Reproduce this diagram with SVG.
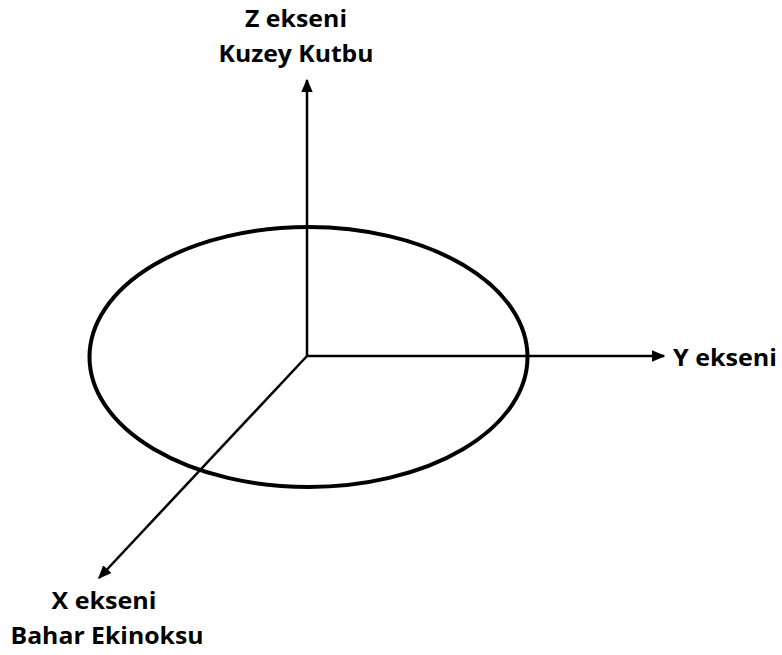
<svg xmlns="http://www.w3.org/2000/svg" width="782" height="655" viewBox="0 0 782 655">
<style>
.lbl{font-family:"Open Sans","Liberation Sans",sans-serif;font-weight:bold;font-size:23px;fill:#000}
.ax{stroke:#000;stroke-width:2.5;fill:none}
</style>
<defs>
<marker id="arr" viewBox="0 0 10 10" refX="9" refY="5" markerWidth="5.4" markerHeight="4.6" markerUnits="strokeWidth" orient="auto" preserveAspectRatio="none">
<path d="M0,0 L10,5 L0,10 Z" fill="#000"/>
</marker>
</defs>
<rect width="782" height="655" fill="#fff"/>
<g id="orbit">
<ellipse cx="308.5" cy="357" rx="219" ry="130" fill="none" stroke="#000" stroke-width="4"/>
</g>
<g id="connectors">
<line class="ax" x1="307" y1="356" x2="307" y2="80" marker-end="url(#arr)"/>
<line class="ax" x1="307" y1="356" x2="664" y2="356" marker-end="url(#arr)"/>
<line class="ax" x1="307" y1="356" x2="99" y2="578" marker-end="url(#arr)"/>
</g>
<g id="z-axis-label">
<text class="lbl" x="296" y="27" text-anchor="middle" textLength="102" lengthAdjust="spacingAndGlyphs">Z ekseni</text>
<text class="lbl" x="296" y="62" text-anchor="middle" textLength="155" lengthAdjust="spacingAndGlyphs">Kuzey Kutbu</text>
</g>
<g id="y-axis-label">
<text class="lbl" x="673" y="366" textLength="104" lengthAdjust="spacingAndGlyphs">Y ekseni</text>
</g>
<g id="x-axis-label">
<text class="lbl" x="104" y="609" text-anchor="middle" textLength="105" lengthAdjust="spacingAndGlyphs">X ekseni</text>
<text class="lbl" x="107" y="644" text-anchor="middle" textLength="193" lengthAdjust="spacingAndGlyphs">Bahar Ekinoksu</text>
</g>
</svg>
